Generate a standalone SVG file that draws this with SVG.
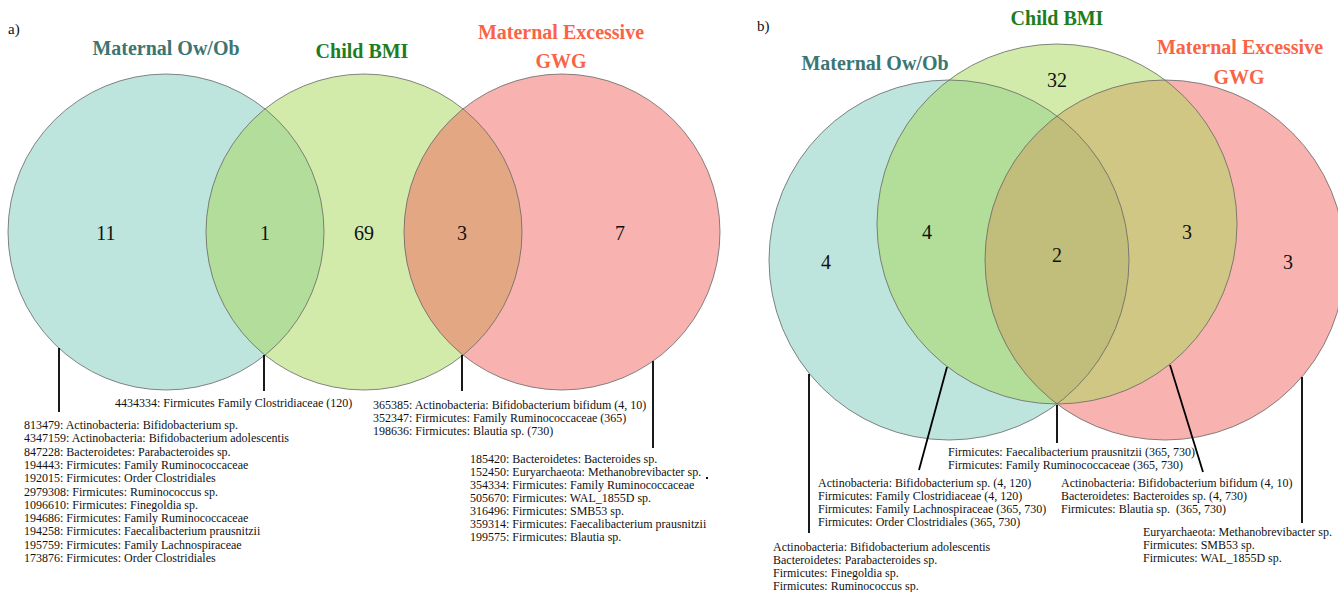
<svg xmlns="http://www.w3.org/2000/svg" width="1338" height="592" viewBox="0 0 1338 592">
<style>
.t{font-family:"Liberation Serif","Times New Roman",serif;font-size:12px;fill:#111;white-space:pre}
.n{font-family:"Liberation Serif","Times New Roman",serif;font-size:20px;fill:#111;text-anchor:middle}
.h{font-family:"Liberation Serif","Times New Roman",serif;font-size:20px;font-weight:bold;text-anchor:middle}
.p{font-family:"Liberation Serif","Times New Roman",serif;font-size:15px;fill:#111}
.ow{fill:#3d7572}.bmi{fill:#1e7d1e}.gwg{fill:#fa6446}
.ol{fill:none;stroke:#666;stroke-width:0.8}
.ld{stroke:#000;stroke-width:1.8;fill:none}
</style>
<defs>
<clipPath id="aT"><circle cx="166" cy="232" r="158"/></clipPath>
<clipPath id="aG"><circle cx="364" cy="232" r="158"/></clipPath>
<clipPath id="bT"><circle cx="949" cy="260" r="180"/></clipPath>
<clipPath id="bG"><circle cx="1057" cy="224" r="180"/></clipPath>
</defs>
<rect width="1338" height="592" fill="#fff"/>

<g id="panel-a">
<text class="p" x="8" y="34">a)</text>
<g id="a-ow">
<circle cx="166" cy="232" r="158" fill="#bde5dd"/>
<text class="h ow" x="166" y="55">Maternal Ow/Ob</text>
<text class="n" x="106" y="240">11</text>
</g>
<g id="a-bmi">
<circle cx="364" cy="232" r="158" fill="#d3ebaa"/>
<text class="h bmi" x="362" y="58">Child BMI</text>
<text class="n" x="364" y="240">69</text>
</g>
<g id="a-gwg">
<circle cx="562" cy="232" r="158" fill="#f8b3b0"/>
<text class="h gwg" x="561" y="39">Maternal Excessive</text>
<text class="h gwg" x="561" y="68">GWG</text>
<text class="n" x="620" y="240">7</text>
</g>
<g id="a-ow-bmi">
<circle cx="364" cy="232" r="158" fill="#b3dd9a" clip-path="url(#aT)"/>
<text class="n" x="265" y="240">1</text>
</g>
<g id="a-bmi-gwg">
<circle cx="562" cy="232" r="158" fill="#e3a883" clip-path="url(#aG)"/>
<text class="n" x="462" y="240">3</text>
</g>
<circle class="ol" cx="166" cy="232" r="158"/>
<circle class="ol" cx="364" cy="232" r="158"/>
<circle class="ol" cx="562" cy="232" r="158"/>
</g>

<g id="panel-b">
<text class="p" x="757" y="31">b)</text>
<g id="b-ow">
<circle cx="949" cy="260" r="180" fill="#bde5dd"/>
<text class="h ow" x="875" y="70">Maternal Ow/Ob</text>
<text class="n" x="826" y="269">4</text>
</g>
<g id="b-bmi">
<circle cx="1057" cy="224" r="180" fill="#d3ebaa"/>
<text class="h bmi" x="1057" y="25">Child BMI</text>
<text class="n" x="1057" y="87">32</text>
</g>
<g id="b-gwg">
<circle cx="1165" cy="260" r="180" fill="#f8b3b0"/>
<text class="h gwg" x="1240" y="54">Maternal Excessive</text>
<text class="h gwg" x="1239" y="84">GWG</text>
<text class="n" x="1288" y="269">3</text>
</g>
<g id="b-ow-bmi">
<circle cx="1057" cy="224" r="180" fill="#b3de9a" clip-path="url(#bT)"/>
<text class="n" x="927" y="239">4</text>
</g>
<g id="b-bmi-gwg">
<circle cx="1165" cy="260" r="180" fill="#d1c784" clip-path="url(#bG)"/>
<text class="n" x="1187" y="239">3</text>
</g>
<g id="b-all">
<circle cx="1165" cy="260" r="180" fill="#c1bd7b" clip-path="url(#bT)"/>
<text class="n" x="1057" y="262">2</text>
</g>
<circle class="ol" cx="949" cy="260" r="180"/>
<circle class="ol" cx="1057" cy="224" r="180"/>
<circle class="ol" cx="1165" cy="260" r="180"/>
</g>

<g id="connectors">
<line class="ld" x1="59" y1="348" x2="59" y2="412"/>
<line class="ld" x1="264" y1="355" x2="264" y2="391"/>
<line class="ld" x1="462" y1="355" x2="462" y2="391"/>
<line class="ld" x1="653" y1="361" x2="653" y2="448"/>
<line class="ld" x1="809" y1="374" x2="809" y2="533"/>
<line class="ld" x1="947" y1="367" x2="919" y2="470"/>
<line class="ld" x1="1057" y1="405" x2="1057" y2="443"/>
<line class="ld" x1="1170" y1="365" x2="1203" y2="472"/>
<line class="ld" x1="1302" y1="377" x2="1302" y2="523"/>
</g>

<g id="labels-a">
<text class="t" x="115" y="407">4434334: Firmicutes Family Clostridiaceae (120)</text>
<text class="t" x="24" y="429">813479: Actinobacteria: Bifidobacterium sp.</text>
<text class="t" x="24" y="442.3">4347159: Actinobacteria: Bifidobacterium adolescentis</text>
<text class="t" x="24" y="455.6">847228: Bacteroidetes: Parabacteroides sp.</text>
<text class="t" x="24" y="468.9">194443: Firmicutes: Family Ruminococcaceae</text>
<text class="t" x="24" y="482.2">192015: Firmicutes: Order Clostridiales</text>
<text class="t" x="24" y="495.5">2979308: Firmicutes: Ruminococcus sp.</text>
<text class="t" x="24" y="508.8">1096610: Firmicutes: Finegoldia sp.</text>
<text class="t" x="24" y="522.1">194686: Firmicutes: Family Ruminococcaceae</text>
<text class="t" x="24" y="535.4">194258: Firmicutes: Faecalibacterium prausnitzii</text>
<text class="t" x="24" y="548.7">195759: Firmicutes: Family Lachnospiraceae</text>
<text class="t" x="24" y="562">173876: Firmicutes: Order Clostridiales</text>
<text class="t" x="373" y="409">365385: Actinobacteria: Bifidobacterium bifidum (4, 10)</text>
<text class="t" x="373" y="422">352347: Firmicutes: Family Ruminococcaceae (365)</text>
<text class="t" x="373" y="435">198636: Firmicutes: Blautia sp. (730)</text>
<text class="t" x="470" y="463">185420: Bacteroidetes: Bacteroides sp.</text>
<text class="t" x="470" y="476">152450: Euryarchaeota: Methanobrevibacter sp.</text>
<rect x="706" y="477" width="2" height="2" fill="#111"/>
<text class="t" x="470" y="489">354334: Firmicutes: Family Ruminococcaceae</text>
<text class="t" x="470" y="502">505670: Firmicutes: WAL_1855D sp.</text>
<text class="t" x="470" y="515">316496: Firmicutes: SMB53 sp.</text>
<text class="t" x="470" y="528">359314: Firmicutes: Faecalibacterium prausnitzii</text>
<text class="t" x="470" y="541">199575: Firmicutes: Blautia sp.</text>
</g>

<g id="labels-b">
<text class="t" x="948" y="456">Firmicutes: Faecalibacterium prausnitzii (365, 730)</text>
<text class="t" x="948" y="469">Firmicutes: Family Ruminococcaceae (365, 730)</text>
<text class="t" x="818" y="487">Actinobacteria: Bifidobacterium sp. (4, 120)</text>
<text class="t" x="818" y="500">Firmicutes: Family Clostridiaceae (4, 120)</text>
<text class="t" x="818" y="513">Firmicutes: Family Lachnospiraceae (365, 730)</text>
<text class="t" x="818" y="526">Firmicutes: Order Clostridiales (365, 730)</text>
<text class="t" x="1061" y="487">Actinobacteria: Bifidobacterium bifidum (4, 10)</text>
<text class="t" x="1061" y="500">Bacteroidetes: Bacteroides sp. (4, 730)</text>
<text class="t" x="1061" y="513">Firmicutes: Blautia sp.  (365, 730)</text>
<text class="t" x="1143" y="536">Euryarchaeota: Methanobrevibacter sp.</text>
<text class="t" x="1143" y="549">Firmicutes: SMB53 sp.</text>
<text class="t" x="1143" y="562">Firmicutes: WAL_1855D sp.</text>
<text class="t" x="773" y="551">Actinobacteria: Bifidobacterium adolescentis</text>
<text class="t" x="773" y="564">Bacteroidetes: Parabacteroides sp.</text>
<text class="t" x="773" y="577">Firmicutes: Finegoldia sp.</text>
<text class="t" x="773" y="590">Firmicutes: Ruminococcus sp.</text>
</g>
</svg>
